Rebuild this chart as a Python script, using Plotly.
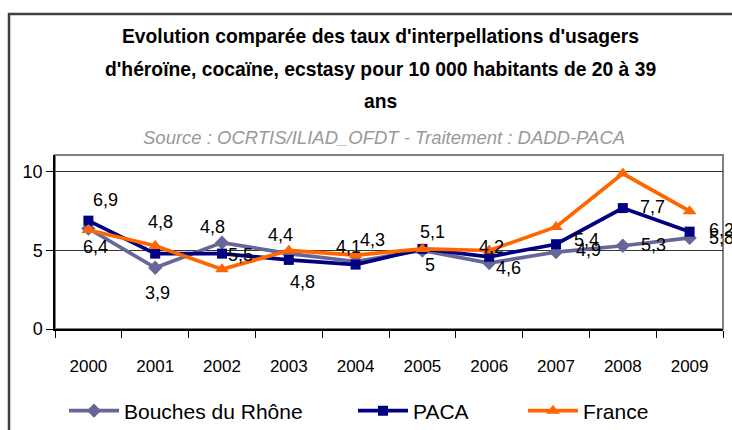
import plotly.graph_objects as go

years = ["2000", "2001", "2002", "2003", "2004", "2005", "2006", "2007", "2008", "2009"]
bdr = [6.4, 3.9, 5.5, 4.8, 4.3, 5.0, 4.2, 4.9, 5.3, 5.8]
paca = [6.9, 4.8, 4.8, 4.4, 4.1, 5.1, 4.6, 5.4, 7.7, 6.2]
france = [6.3, 5.3, 3.8, 5.0, 4.7, 5.1, 5.0, 6.5, 9.9, 7.5]
series_names = ["Bouches du Rhône", "PACA", "France"]
y_ticks = [0, 5, 10]

title_lines = [
    "Evolution comparée des taux d'interpellations d'usagers",
    "d'héroïne, cocaïne, ecstasy pour 10 000 habitants de 20 à 39",
    "ans",
]
subtitle = "Source : OCRTIS/ILIAD_OFDT - Traitement : DADD-PACA"

# label offsets (pixels) relative to each point
paca_dx = [17, 5, -10, -8, -7, 10, 19, 30, 30, 32]
paca_dy = [-21, -32, -27, -25, -18, -17, 11, -4, -1, -2]
bdr_dx = [7, 2, 18, 14, 17, 8, 2, 32, 31, 32]
bdr_dy = [19, 25, 12, 28, -21, 15, -16, -2, -1, 0]

FONT = "Liberation Sans, Arial, sans-serif"
W, H = 732, 430
L, R, T, B = 55, 9, 155, 101

def fmt(v):
    return ("%g" % v).replace(".", ",")

fig = go.Figure()
fig.add_trace(go.Scatter(x=years, y=bdr, name=series_names[0], mode="lines+markers",
                         line=dict(color="#666699", width=3.7),
                         marker=dict(symbol="diamond", size=11, color="#666699"),
                         legend="legend", cliponaxis=False))
fig.add_trace(go.Scatter(x=years, y=paca, name=series_names[1], mode="lines+markers",
                         line=dict(color="#000080", width=3.7),
                         marker=dict(symbol="square", size=10, color="#000080"),
                         legend="legend2", cliponaxis=False))
fig.add_trace(go.Scatter(x=years, y=france, name=series_names[2], mode="lines+markers",
                         line=dict(color="#FF6600", width=3.7),
                         marker=dict(symbol="triangle-up", size=12, color="#FF6600"),
                         legend="legend3", cliponaxis=False))

annotations = []
for i, yr in enumerate(years):
    annotations.append(dict(x=i, y=paca[i], xref="x", yref="y", text=fmt(paca[i]),
                            showarrow=False, xshift=paca_dx[i], yshift=-paca_dy[i],
                            font=dict(family=FONT, size=18, color="black")))
    annotations.append(dict(x=i, y=bdr[i], xref="x", yref="y", text=fmt(bdr[i]),
                            showarrow=False, xshift=bdr_dx[i], yshift=-bdr_dy[i],
                            font=dict(family=FONT, size=18, color="black")))

pw = W - L - R
ph = H - T - B
def px(xp):
    return (xp - L) / pw
def py(yp):
    return (H - B - yp) / ph

for yy, line in zip([36, 69, 101], title_lines):
    annotations.append(dict(x=px(380), y=py(yy), xref="paper", yref="paper", text="<b>" + line + "</b>",
                            showarrow=False, xanchor="center", yanchor="middle",
                            font=dict(family=FONT, size=19.3, color="black")))
annotations.append(dict(x=px(384), y=py(137), xref="paper", yref="paper", text="<i>" + subtitle + "</i>",
                        showarrow=False, xanchor="center", yanchor="middle",
                        font=dict(family=FONT, size=18.5, color="#999999")))

shapes = [
    dict(type="rect", xref="paper", yref="paper", x0=px(9), x1=px(740), y0=py(14), y1=py(440),
         line=dict(color="#404040", width=2.5), layer="below"),
    dict(type="rect", xref="paper", yref="paper", x0=0, x1=1, y0=0, y1=1,
         line=dict(color="#808080", width=2), layer="below"),
]

legend_common = dict(orientation="h", xanchor="left", yanchor="middle",
                     xref="container", yref="container",
                     font=dict(family=FONT, size=21, color="black"),
                     bgcolor="rgba(0,0,0,0)", itemwidth=50)
fig.update_layout(
    width=W, height=H,
    margin=dict(l=L, r=R, t=T, b=B, autoexpand=False),
    paper_bgcolor="white", plot_bgcolor="white",
    showlegend=True,
    legend=dict(x=64 / W, y=1 - 411 / H, **legend_common),
    legend2=dict(x=353 / W, y=1 - 411 / H, **legend_common),
    legend3=dict(x=523 / W, y=1 - 411 / H, **legend_common),
    annotations=annotations,
    shapes=shapes,
    xaxis=dict(type="category", showline=True, linecolor="black", linewidth=1.5,
               ticks="outside", tickson="boundaries", ticklen=7, tickcolor="black",
               showgrid=False, tickfont=dict(family=FONT, size=17, color="black"),
               range=[-0.5, 9.5], fixedrange=True, ticklabelstandoff=21),
    yaxis=dict(range=[0, 11.08], tickvals=y_ticks, showline=True, linecolor="black", linewidth=1.5,
               ticks="outside", ticklen=7, tickcolor="black",
               showgrid=True, gridcolor="#333333", gridwidth=1, zeroline=False,
               tickfont=dict(family=FONT, size=18, color="black"), ticklabelstandoff=0,
               fixedrange=True),
)
fig.write_html("out.html", config={"displayModeBar": False},
               post_script="document.body.style.margin='0px';")
